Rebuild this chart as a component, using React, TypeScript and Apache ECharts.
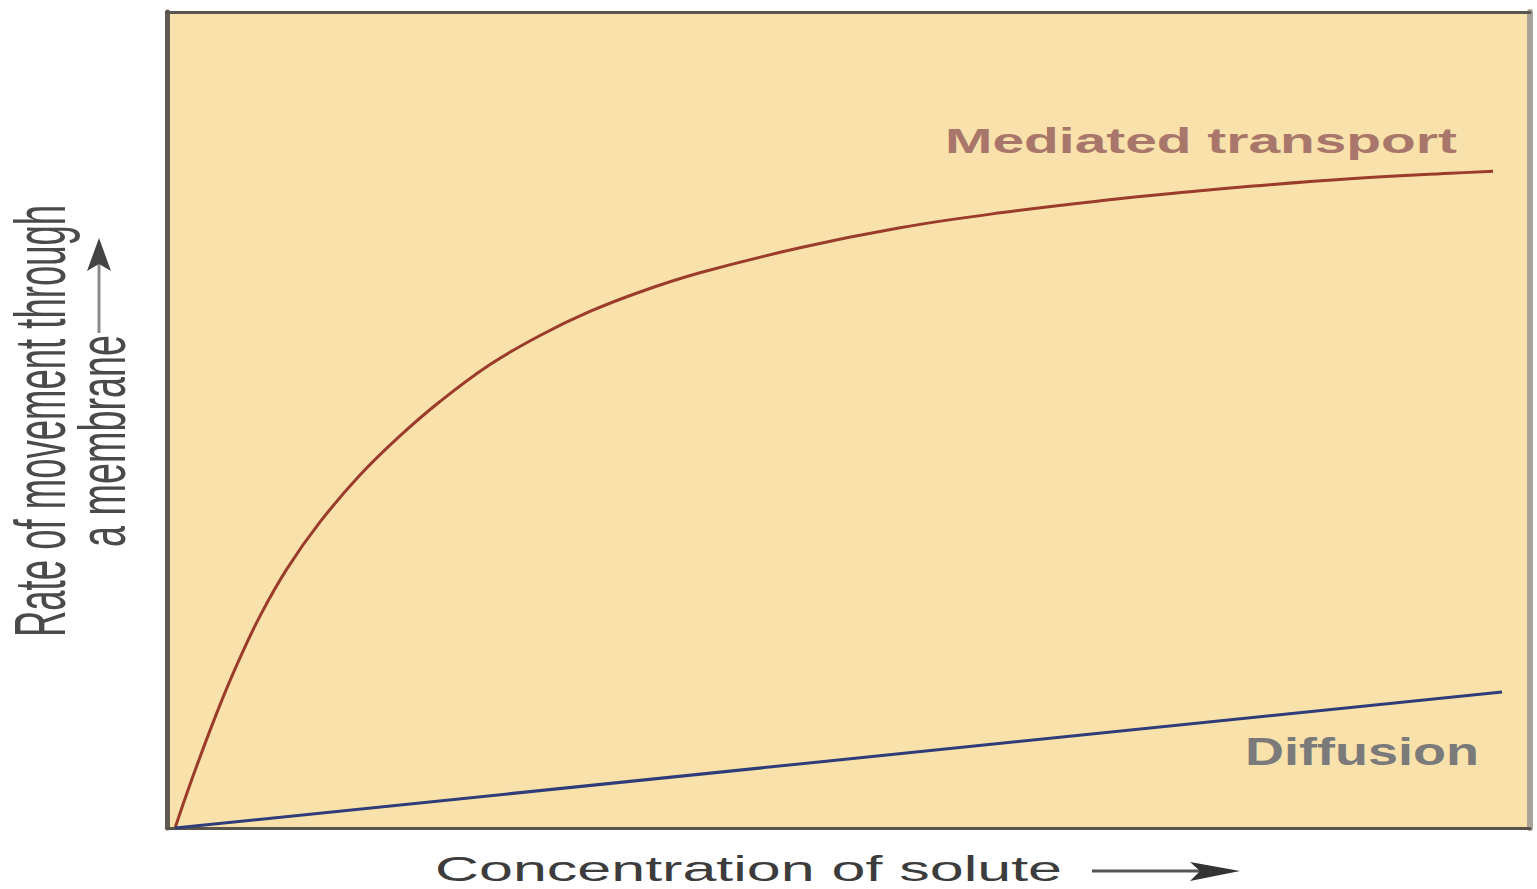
import React, { useEffect, useRef } from "react";
import * as echarts from "echarts";

// Mediated transport curve (x: concentration 0-100, y: rate 0-100)
const mediatedX = [0.59, 1.91, 3.67, 5.14, 6.82, 8.8, 11.23, 14.16, 17.09, 20.03, 23.7, 27.37, 31.03, 34.7, 39.1, 46.44, 53.78, 61.12, 68.45, 75.79, 79.46, 86.79, 94.13, 97.29];
const mediatedY = [0, 6.37, 14.17, 20.05, 25.97, 31.76, 37.51, 43.25, 48.05, 52.27, 56.8, 60.36, 63.3, 65.69, 68.04, 71.1, 73.55, 75.39, 76.86, 78.09, 78.64, 79.56, 80.23, 80.48];
// Diffusion line
const diffusionX = [0.59, 97.95];
const diffusionY = [0, 16.67];

const xTitle = "Concentration of solute";
const yTitleLine1 = "Rate of movement through";
const yTitleLine2 = "a membrane";
const mediatedLabel = "Mediated transport";
const diffusionLabel = "Diffusion";

const FONT = '"Liberation Sans", Arial, sans-serif';

function measure(text: string, size: number, weight: string) {
  const ctx = document.createElement("canvas").getContext("2d") as CanvasRenderingContext2D;
  ctx.font = `${weight} ${size}px "Liberation Sans", Arial, sans-serif`;
  return ctx.measureText(text).width;
}

function fitText(text: string, cx: number, cy: number, width: number, size: number, weight: string, color: string, rotation = 0) {
  const w = measure(text, size, weight);
  return {
    type: "text",
    x: cx,
    y: cy,
    rotation,
    scaleX: width / w,
    scaleY: 1,
    silent: true,
    z: 10,
    style: {
      text,
      fontSize: size,
      fontFamily: FONT,
      fontWeight: weight,
      fill: color,
      align: "center",
      verticalAlign: "middle",
      lineHeight: Math.round(size * 0.85),
    },
  };
}

export default function App() {
  const ref = useRef<HTMLDivElement>(null);
  useEffect(() => {
    if (!ref.current) return;
    const chart = echarts.init(ref.current, undefined, { renderer: "svg" });
    const axisBase = {
      type: "value",
      min: 0,
      max: 100,
      axisTick: { show: false },
      axisLabel: { show: false },
      splitLine: { show: false },
    };
    chart.setOption({
      animation: false,
      backgroundColor: "#ffffff",
      grid: { left: 167, top: 12, right: 7, bottom: 61, show: true, backgroundColor: "#f8e1ab", borderWidth: 0 },
      xAxis: [
        { ...axisBase, position: "bottom", axisLine: { show: true, onZero: false, lineStyle: { color: "#5a554c", width: 3 } } },
        { ...axisBase, position: "top", axisLine: { show: true, onZero: false, lineStyle: { color: "#58564f", width: 3 } } },
      ],
      yAxis: [
        { ...axisBase, position: "left", axisLine: { show: true, onZero: false, lineStyle: { color: "#625b4f", width: 5 } } },
        { ...axisBase, position: "right", axisLine: { show: true, onZero: false, lineStyle: { color: "#aaa498", width: 6 } } },
      ],
      series: [
        {
          type: "line",
          name: mediatedLabel,
          data: mediatedX.map((x, i) => [x, mediatedY[i]]),
          showSymbol: false,
          smooth: 0.4,
          lineStyle: { color: "#9a3b2b", width: 3 },
          z: 5,
        },
        {
          type: "line",
          name: diffusionLabel,
          data: diffusionX.map((x, i) => [x, diffusionY[i]]),
          showSymbol: false,
          lineStyle: { color: "#2f3c7a", width: 3 },
          z: 5,
        },
      ],
      graphic: [
        fitText(mediatedLabel, 945 + 512 / 2, 140.5, 512, 36, "bold", "#a8766a"),
        fitText(diffusionLabel, 1245 + 234 / 2, 752, 234, 38, "bold", "#7b7a7a"),
        fitText(xTitle, 435 + 627 / 2, 868.5, 627, 36, "normal", "#3c3c3c"),
        fitText(yTitleLine1, 40, 421, 432, 72, "normal", "#4a4a4a", Math.PI / 2),
        fitText(yTitleLine2, 102, 441, 212, 67, "normal", "#4a4a4a", Math.PI / 2),
        { type: "line", silent: true, shape: { x1: 1092, y1: 871, x2: 1200, y2: 871 }, style: { stroke: "#555555", lineWidth: 3 } },
        { type: "polygon", silent: true, shape: { points: [[1240, 871], [1190, 862], [1200, 871], [1190, 881]] }, style: { fill: "#333333" } },
        { type: "line", silent: true, shape: { x1: 99, y1: 333, x2: 99, y2: 262 }, style: { stroke: "#8a8a8a", lineWidth: 3 } },
        { type: "polygon", silent: true, shape: { points: [[99, 238], [87, 271], [99, 264], [111, 271]] }, style: { fill: "#444444" } },
      ],
    });
    return () => chart.dispose();
  }, []);
  return <div ref={ref} style={{ position: "absolute", left: 0, top: 0, width: 1537, height: 889 }} />;
}
